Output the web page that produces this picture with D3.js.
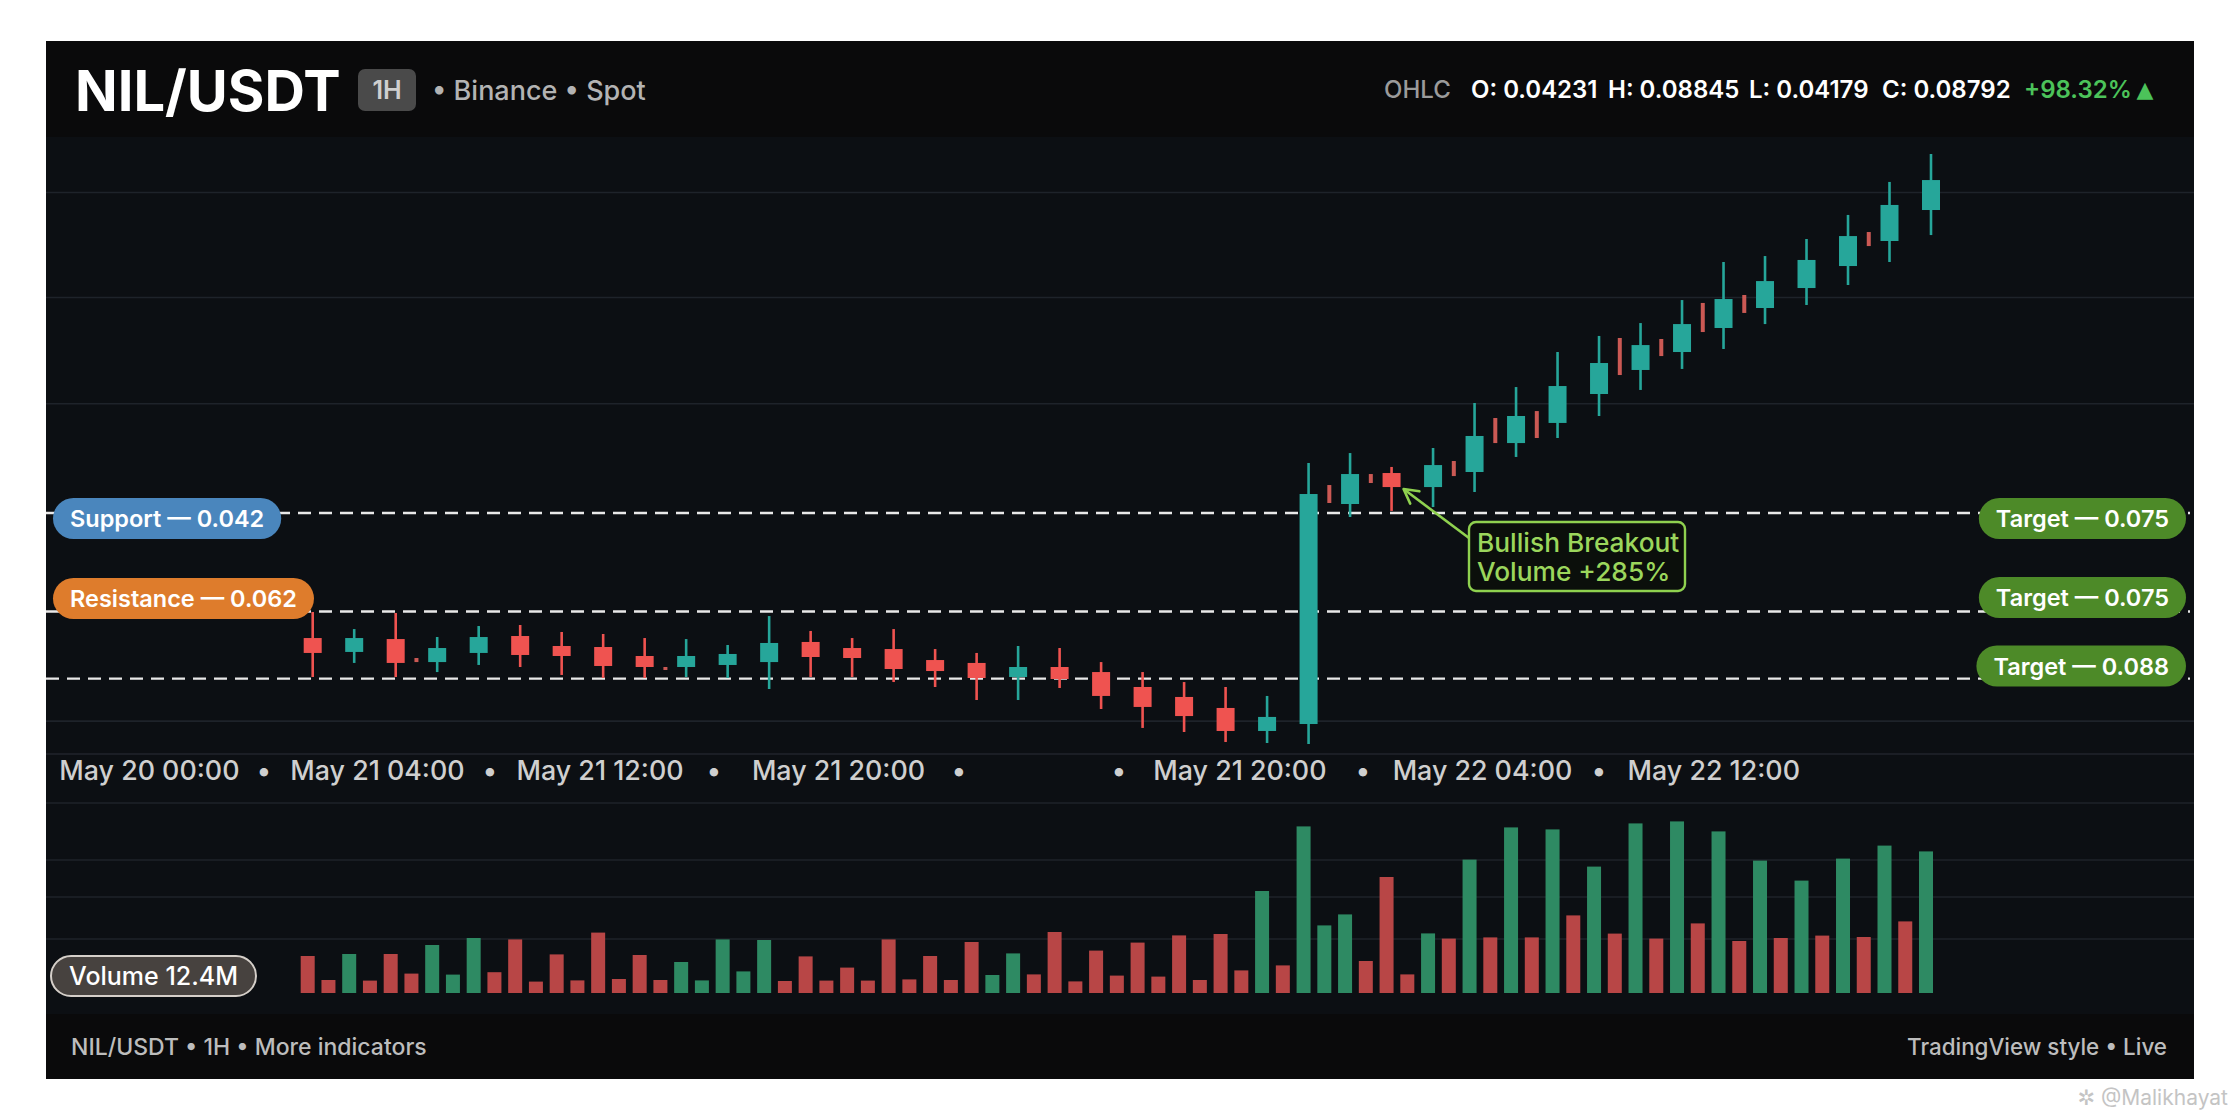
<!DOCTYPE html>
<html>
<head>
<meta charset="utf-8">
<script src="https://cdn.jsdelivr.net/npm/d3@7"></script>
<style>
  html, body { margin: 0; padding: 0; background: #ffffff; }
  svg { display: block; font-family: Inter, "Open Sans", "DejaVu Sans", sans-serif; }
</style>
</head>
<body>
<script>
// ---------------- DATA ----------------
// main hourly candles (every even slot)
const candleOpen  = [0.05017,0.04907,0.05009,0.04827,0.04899,0.05033,0.04954,0.04946,0.04875,0.04788,0.04804,0.04827,0.04986,0.04938,0.04930,0.04843,0.04820,0.04709,0.04788,0.04748,0.04630,0.04551,0.04464,0.04282,0.04337,0.06077,0.06322,0.06211,0.06330,0.06559,0.06718,0.06947,0.07137,0.07279,0.07469,0.07627,0.07785,0.07959,0.08157,0.08402];
const candleHigh  = [0.05223,0.05088,0.05215,0.05025,0.05112,0.05120,0.05065,0.05049,0.05017,0.05009,0.04962,0.05191,0.05073,0.05017,0.05088,0.04930,0.04899,0.04954,0.04938,0.04827,0.04748,0.04669,0.04630,0.04559,0.06401,0.06480,0.06370,0.06520,0.06876,0.07002,0.07279,0.07406,0.07508,0.07690,0.07991,0.08038,0.08173,0.08363,0.08624,0.08845];
const candleLow   = [0.04709,0.04820,0.04709,0.04748,0.04804,0.04788,0.04725,0.04701,0.04701,0.04709,0.04701,0.04614,0.04709,0.04709,0.04669,0.04630,0.04527,0.04527,0.04622,0.04456,0.04306,0.04274,0.04195,0.04187,0.04179,0.05974,0.06022,0.06053,0.06172,0.06449,0.06599,0.06773,0.06979,0.07145,0.07303,0.07500,0.07651,0.07809,0.07991,0.08204];
const candleClose = [0.04899,0.05017,0.04820,0.04938,0.05025,0.04883,0.04875,0.04796,0.04788,0.04875,0.04891,0.04978,0.04867,0.04859,0.04772,0.04756,0.04701,0.04788,0.04693,0.04559,0.04472,0.04400,0.04282,0.04393,0.06156,0.06314,0.06211,0.06385,0.06615,0.06773,0.07010,0.07192,0.07334,0.07500,0.07698,0.07840,0.08007,0.08196,0.08442,0.08639];

// small in-between ticks (odd slots)
const minorSlot  = [5,17,49,51,55,57,59,63,65,67,69,75];
const minorOpen  = [0.04859,0.04788,0.06227,0.06314,0.06417,0.06757,0.06812,0.07390,0.07382,0.07667,0.07730,0.08228];
const minorClose = [0.04827,0.04780,0.06085,0.06243,0.06298,0.06559,0.06599,0.07097,0.07247,0.07437,0.07588,0.08117];

// volume per slot (K)
const volume = [185,65,195,62,195,97,240,92,275,104,268,57,193,63,302,70,190,65,155,63,268,108,265,60,183,62,127,62,268,68,185,65,255,90,198,93,305,58,212,87,252,82,288,65,295,113,510,138,833,338,393,160,580,93,298,272,667,278,828,278,818,388,632,297,848,272,858,348,808,260,662,275,562,287,672,280,737,358,708];
const volumeUp = [0,0,1,0,0,0,1,1,1,0, 0,0,0,0,0,0,0,0,1,1, 1,1,1,0,0,0,0,0,0,0, 0,0,0,1,1,0,0,0,0,0, 0,0,0,0,0,0,1,0,1,1, 1,0,0,0,1,0,1,0,1,0, 1,0,1,0,1,0,1,0,1,0, 1,0,1,0,1,0,1,0,1];

// horizontal levels (dashed) and grid
const levelPrices = [0.06006, 0.05227, 0.04696];
const leftTags  = ["Support — 0.042", "Resistance — 0.062"];
const rightTags = ["Target — 0.075", "Target — 0.075", "Target — 0.088"];
const gridPrices = [0.0854, 0.0771, 0.0687, 0.0436];
const volumeGrid = [950, 665, 480, 270];

// time axis ticks (slot positions)
const timeLabels = ["May 20 00:00","•","May 21 04:00","•","May 21 12:00","•","May 21 20:00","•","•","May 21 20:00","•","May 22 04:00","•","May 22 12:00"];
const timeSlots  = [-7.87,-2.35,3.12,8.54,13.85,19.34,25.34,31.15,38.86,44.69,50.62,56.38,61.99,67.53];

const headerTitle = "NIL/USDT";
const headerTF = "1H";
const headerSub = "• Binance • Spot";
const ohlcLabels = ["O: 0.04231","H: 0.08845","L: 0.04179","C: 0.08792"];
const changeText = "+98.32%";
const annotationLines = ["Bullish Breakout","Volume +285%"];
const volumeTag = "Volume 12.4M";
const footerLeft = "NIL/USDT • 1H • More indicators";
const footerRight = "TradingView style • Live";

// ---------------- DRAW ----------------
const W = 2240, H = 1120;
const P = {x0: 46, x1: 2194, y0: 41, y1: 1079, chartTop: 137, footTop: 1014};
const UP = "#26a69a", DOWN = "#ef5350", VUP = "#2e8a63", VDOWN = "#b84646";

const svg = d3.select("body").append("svg").attr("width", W).attr("height", H).attr("viewBox", `0 0 ${W} ${H}`);

// scales
const x = d3.scaleLinear().domain([0, 78]).range([312.7, 1931]);
const y = d3.scaleLinear().domain([0.04179, 0.08845]).range([744, 154]);
const yv = d3.scaleLinear().domain([0, 1000]).range([993, 793]);

// panel backgrounds
svg.append("rect").attr("x", P.x0).attr("y", P.y0).attr("width", P.x1 - P.x0).attr("height", P.y1 - P.y0).attr("fill", "#0a0a0b");
svg.append("rect").attr("x", P.x0).attr("y", P.chartTop).attr("width", P.x1 - P.x0).attr("height", P.footTop - P.chartTop).attr("fill", "#0c0f13");

// grid lines
const grid = svg.append("g").attr("stroke", "#1e232a").attr("stroke-width", 1.6);
gridPrices.forEach(p => grid.append("line").attr("x1", P.x0).attr("x2", P.x1).attr("y1", y(p)).attr("y2", y(p)));
volumeGrid.forEach(v => grid.append("line").attr("x1", P.x0).attr("x2", P.x1).attr("y1", yv(v)).attr("y2", yv(v)));
// pane divider
grid.append("line").attr("x1", P.x0).attr("x2", P.x1).attr("y1", 754).attr("y2", 754).attr("stroke", "#20252c");

// dashed levels
const lv = svg.append("g");
levelPrices.forEach(p => lv.append("line").attr("x1", P.x0).attr("x2", P.x1 - 4).attr("y1", y(p)).attr("y2", y(p))
  .attr("stroke", "#e9e9e9").attr("stroke-width", 2.4).attr("stroke-dasharray", "13 8"));

// candles
const candles = d3.range(candleOpen.length).map(j => ({slot: 2 * j, o: candleOpen[j], h: candleHigh[j], l: candleLow[j], c: candleClose[j]}));
const cg = svg.append("g");
const BW = 18;
cg.selectAll("line.wick").data(candles).join("line")
  .attr("x1", d => x(d.slot)).attr("x2", d => x(d.slot))
  .attr("y1", d => y(d.h)).attr("y2", d => y(d.l))
  .attr("stroke", d => d.c >= d.o ? UP : DOWN).attr("stroke-width", 2.6);
cg.selectAll("rect.body").data(candles).join("rect")
  .attr("x", d => x(d.slot) - BW / 2).attr("width", BW)
  .attr("y", d => y(Math.max(d.o, d.c)))
  .attr("height", d => Math.max(2, Math.abs(y(d.o) - y(d.c))))
  .attr("fill", d => d.c >= d.o ? UP : DOWN);

// minor ticks
const minors = minorSlot.map((s, i) => ({slot: s, o: minorOpen[i], c: minorClose[i]}));
cg.selectAll("rect.minor").data(minors).join("rect")
  .attr("x", d => x(d.slot) - 2).attr("width", 4)
  .attr("y", d => y(Math.max(d.o, d.c)))
  .attr("height", d => Math.max(3, Math.abs(y(d.o) - y(d.c))))
  .attr("fill", "#e0625c").attr("opacity", 0.9);

// volume
const vg = svg.append("g").attr("transform", "translate(-5,0)");
vg.selectAll("rect").data(volume).join("rect")
  .attr("x", (d, i) => x(i) - 7).attr("width", 14)
  .attr("y", d => yv(d)).attr("height", d => yv(0) - yv(d))
  .attr("fill", (d, i) => volumeUp[i] ? VUP : VDOWN);

// time axis labels
const tg = svg.append("g").attr("fill", "#cfcfcf").attr("font-size", 26.8).attr("font-weight", 500).attr("text-anchor", "middle");
timeLabels.forEach((t, i) => tg.append("text").attr("x", x(timeSlots[i])).attr("y", 780).text(t));

// pill helper
function pill(g, text, side, edgeX, cy, fill) {
  const gg = g.append("g");
  const r = gg.append("rect").attr("height", 41).attr("rx", 20.5).attr("fill", fill).attr("y", cy - 20.5);
  const t = gg.append("text").attr("y", cy + 8.5).attr("fill", "#ffffff").attr("font-size", 23.5).attr("font-weight", 600).text(text);
  const w = t.node().getComputedTextLength() + 34;
  const left = side === "left" ? edgeX : edgeX - w;
  r.attr("x", left).attr("width", w);
  t.attr("x", left + 17);
}
const pg = svg.append("g");
pill(pg, leftTags[0], "left", 53, y(levelPrices[0]) + 5.5, "#4a86bd");
pill(pg, leftTags[1], "left", 53, y(levelPrices[1]) - 13, "#de7c2c");
pill(pg, rightTags[0], "right", 2186, y(levelPrices[0]) + 5.5, "#4d8a28");
pill(pg, rightTags[1], "right", 2186, y(levelPrices[1]) - 14, "#4d8a28");
pill(pg, rightTags[2], "right", 2186, y(levelPrices[2]) - 12.6, "#4d8a28");

// annotation
const ag = svg.append("g");
const GREEN = "#8fd14f";
const target = candles[26];
const tipX = x(target.slot) + 12, tipY = y(target.c) + 2;
const fromX = 1469, fromY = 538;
ag.append("line").attr("x1", fromX).attr("y1", fromY).attr("x2", tipX).attr("y2", tipY).attr("stroke", GREEN).attr("stroke-width", 2.6);
const ang = Math.atan2(fromY - tipY, fromX - tipX);
const hl = 16, ha = 0.5;
ag.append("path").attr("d", `M${tipX + hl * Math.cos(ang - ha)},${tipY + hl * Math.sin(ang - ha)} L${tipX},${tipY} L${tipX + hl * Math.cos(ang + ha)},${tipY + hl * Math.sin(ang + ha)}`)
  .attr("fill", "none").attr("stroke", GREEN).attr("stroke-width", 2.6).attr("stroke-linecap", "round").attr("stroke-linejoin", "round");
ag.append("rect").attr("x", 1469).attr("y", 522).attr("width", 216).attr("height", 69).attr("rx", 7)
  .attr("fill", "#0b0f0b").attr("stroke", GREEN).attr("stroke-width", 2.4);
annotationLines.forEach((t, i) => ag.append("text").attr("x", 1477).attr("y", 552 + i * 29).attr("fill", "#9bd65c")
  .attr("font-size", 26.3).attr("font-weight", 500).text(t));

// volume tag
const vt = svg.append("g");
vt.append("rect").attr("x", 51).attr("y", 956).attr("width", 205).attr("height", 40).attr("rx", 20)
  .attr("fill", "#47423f").attr("stroke", "#d5cfc9").attr("stroke-width", 2);
vt.append("text").attr("x", 153.5).attr("y", 985).attr("text-anchor", "middle").attr("fill", "#ffffff")
  .attr("font-size", 25).attr("font-weight", 500).text(volumeTag);

// header
const hg = svg.append("g");
hg.append("text").attr("x", 75).attr("y", 111).attr("fill", "#ffffff").attr("font-size", 56).attr("font-weight", 700).text(headerTitle);
hg.append("rect").attr("x", 358).attr("y", 69).attr("width", 58).attr("height", 42).attr("rx", 7).attr("fill", "#4a4a4a");
hg.append("text").attr("x", 387).attr("y", 99).attr("text-anchor", "middle").attr("fill", "#cfcfcf").attr("font-size", 25).attr("font-weight", 600).text(headerTF);
hg.append("text").attr("x", 432).attr("y", 100).attr("fill", "#b3b3b3").attr("font-size", 27).attr("font-weight", 500).text(headerSub);

const ohlcX = [1471, 1608, 1749, 1882];
hg.append("text").attr("x", 1384).attr("y", 98).attr("fill", "#9b9b9b").attr("font-size", 24).attr("font-weight", 500).text("OHLC");
ohlcLabels.forEach((t, i) => hg.append("text").attr("x", ohlcX[i]).attr("y", 98).attr("fill", "#ffffff").attr("font-size", 24).attr("font-weight", 600).text(t));
hg.append("text").attr("x", 2024).attr("y", 98).attr("fill", "#4cc35a").attr("font-size", 24).attr("font-weight", 600).text(changeText);
hg.append("text").attr("x", 2145).attr("y", 97).attr("text-anchor", "middle").attr("fill", "#4cc35a").attr("font-size", 22).attr("font-family", "DejaVu Sans").text("▲");

// footer
const fg = svg.append("g").attr("fill", "#bdbdbd").attr("font-size", 23).attr("font-weight", 500);
fg.append("text").attr("x", 71).attr("y", 1055).text(footerLeft);
fg.append("text").attr("x", 2167).attr("y", 1055).attr("text-anchor", "end").attr("font-size", 22.4).text(footerRight);

// watermark
svg.append("text").attr("x", 2228).attr("y", 1105).attr("text-anchor", "end").attr("fill", "#c4c4c4").attr("font-size", 21)
  .text("✲ @Malikhayat");
</script>
</body>
</html>
